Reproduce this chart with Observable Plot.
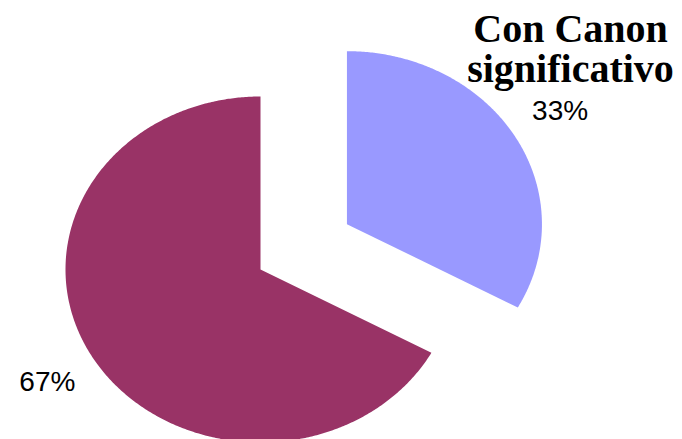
<!DOCTYPE html>
<html>
<head>
<meta charset="utf-8">
<script src="https://cdn.jsdelivr.net/npm/d3@7"></script>
<script src="https://cdn.jsdelivr.net/npm/@observablehq/plot@0.6"></script>
<style>
  html, body { margin: 0; padding: 0; background: #ffffff; }
  #chart { width: 682px; height: 439px; }
</style>
</head>
<body>
<div id="chart"></div>
<script>
// Data
const titleLines = ["Con Canon", "significativo"];
const sliceValues = [33, 67];
const sliceLabels = ["33%", "67%"];
const sliceColors = ["#9999FF", "#993366"];
const sliceExplode = [0.515, 0];

// Build pie geometry (unit radius, ellipse produced by the x/y scales)
const arcs = d3.pie().sort(null).value(d => d)(sliceValues);
const slicePoints = [];
const labelRows = [];
arcs.forEach((a, i) => {
  const mid = (a.startAngle + a.endAngle) / 2;
  const cx = sliceExplode[i] * Math.sin(mid);
  const cy = sliceExplode[i] * Math.cos(mid);
  slicePoints.push({slice: i, x: cx, y: cy});
  const n = Math.max(2, Math.ceil((a.endAngle - a.startAngle) / (Math.PI / 360)));
  for (let k = 0; k <= n; k++) {
    const t = a.startAngle + (a.endAngle - a.startAngle) * k / n;
    slicePoints.push({slice: i, x: cx + Math.sin(t), y: cy + Math.cos(t)});
  }
  labelRows.push({label: sliceLabels[i], x: cx + 1.27 * Math.sin(mid), y: cy + 1.28 * Math.cos(mid)});
});

const chart = Plot.plot({
  width: 682,
  height: 439,
  margin: 0,
  x: {domain: [-260 / 195, 422 / 195], axis: null},
  y: {domain: [-170 / 173, 269 / 173], axis: null},
  marks: [
    Plot.line(slicePoints, {
      x: "x", y: "y", z: "slice",
      fill: d => sliceColors[d.slice],
      stroke: "none",
      curve: "linear-closed"
    }),
    Plot.text(labelRows, {
      x: "x", y: "y", text: "label",
      fontSize: 28,
      fontFamily: "Liberation Sans, Arial, sans-serif",
      fill: "#000000"
    }),
    Plot.text([titleLines.join("\n")], {
      frameAnchor: "top-right",
      textAnchor: "middle",
      lineAnchor: "top",
      dx: -112,
      dy: 13.5,
      lineHeight: 1,
      fontSize: 40,
      fontWeight: "bold",
      fontFamily: "Liberation Serif, 'Times New Roman', serif",
      fill: "#000000"
    })
  ]
});
document.getElementById("chart").appendChild(chart);
</script>
</body>
</html>
